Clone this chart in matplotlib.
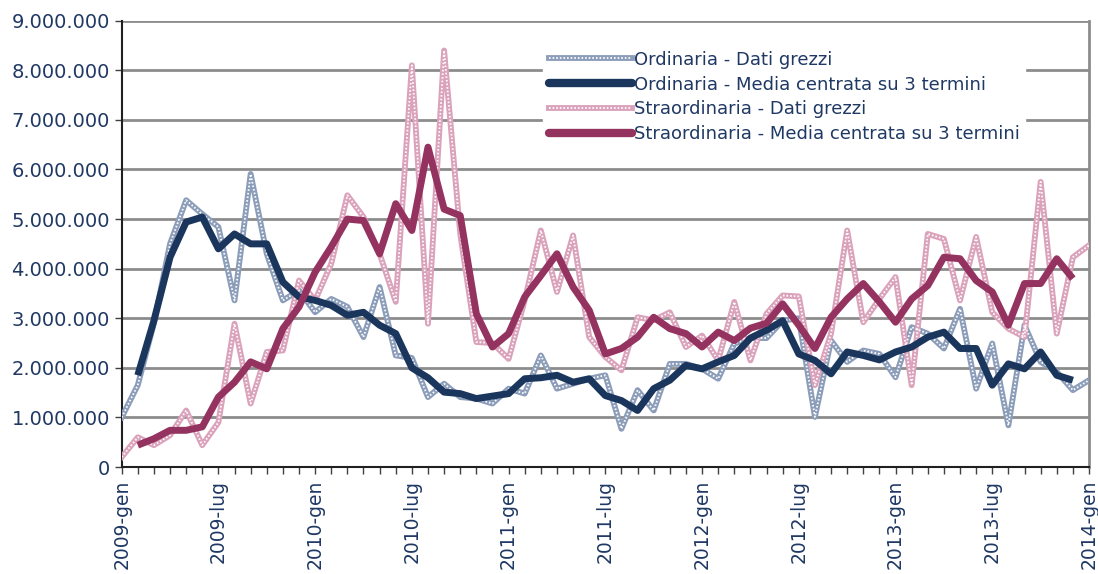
import numpy as np
import matplotlib
matplotlib.use("Agg")
import matplotlib.pyplot as plt
from matplotlib.lines import Line2D
from matplotlib.legend_handler import HandlerTuple

# monthly values, 2009-gen .. 2014-gen (millions of hours)
mesi = ["gen", "feb", "mar", "apr", "mag", "giu",
        "lug", "ago", "set", "ott", "nov", "dic"]
anni = [2009, 2010, 2011, 2012, 2013, 2014]
labels = [f"{a}-{m}" for a in anni for m in mesi][:61]

ord_raw = [1.0, 1.65, 2.9, 4.5, 5.38, 5.1, 4.84, 3.36, 5.91, 4.3,
           3.36, 3.56, 3.12, 3.39, 3.23, 2.62, 3.63, 2.25, 2.2, 1.41,
           1.68, 1.41, 1.38, 1.28, 1.58, 1.48, 2.25, 1.58, 1.68, 1.78,
           1.85, 0.77, 1.55, 1.14, 2.08, 2.08, 1.98, 1.78, 2.49, 2.6,
           2.6, 2.95, 3.0, 1.01, 2.55, 2.12, 2.35, 2.28, 1.81, 2.82,
           2.69, 2.39, 3.19, 1.58, 2.49, 0.84, 2.86, 2.12, 1.92, 1.55,
           1.75]
ord_ma = [np.nan, 1.85, 2.95, 4.23, 4.94, 5.04, 4.4, 4.7, 4.5, 4.5,
          3.73, 3.43, 3.36, 3.26, 3.06, 3.12, 2.86, 2.69, 2.0, 1.8,
          1.51, 1.48, 1.38, 1.43, 1.48, 1.78, 1.8, 1.85, 1.71, 1.78,
          1.44, 1.34, 1.14, 1.58, 1.75, 2.05, 1.98, 2.12, 2.25, 2.6,
          2.76, 2.95, 2.28, 2.15, 1.88, 2.32, 2.25, 2.16, 2.32, 2.42,
          2.62, 2.72, 2.39, 2.39, 1.65, 2.08, 1.98, 2.32, 1.85, 1.75,
          np.nan]
stra_raw = [0.2, 0.6, 0.44, 0.64, 1.14, 0.44, 0.9, 2.89, 1.28, 2.32,
            2.35, 3.76, 3.36, 4.1, 5.48, 5.04, 4.3, 3.33, 8.1, 2.89,
            8.4, 4.7, 2.52, 2.5, 2.18, 3.36, 4.77, 3.53, 4.67, 2.62,
            2.22, 1.95, 3.02, 2.96, 3.12, 2.42, 2.65, 2.15, 3.33, 2.15,
            3.09, 3.46, 3.44, 1.65, 2.69, 4.77, 2.92, 3.39, 3.83, 1.65,
            4.7, 4.6, 3.36, 4.64, 3.12, 2.79, 2.62, 5.75, 2.69, 4.23,
            4.47]
stra_ma = [np.nan, 0.44, 0.57, 0.74, 0.74, 0.81, 1.41, 1.71, 2.12, 1.98,
           2.79, 3.23, 3.93, 4.44, 5.0, 4.97, 4.3, 5.31, 4.77, 6.45,
           5.2, 5.07, 3.09, 2.42, 2.69, 3.43, 3.86, 4.3, 3.63, 3.16,
           2.28, 2.39, 2.62, 3.02, 2.79, 2.69, 2.42, 2.72, 2.55, 2.8,
           2.9, 3.29, 2.86, 2.39, 3.02, 3.39, 3.7, 3.33, 2.92, 3.39,
           3.66, 4.23, 4.2, 3.76, 3.53, 2.86, 3.7, 3.7, 4.2, 3.8,
           np.nan]

txt = "#1f3864"
navy = "#1b365d"
wine = "#943260"
ord_light = "#8c9dba"
stra_light = "#dba2bb"

plt.rcParams["font.family"] = ["DejaVu Sans"]
fig = plt.figure(figsize=(10.98, 5.74), dpi=100)
ax = fig.add_axes([0.1108, 0.1864, 0.881, 0.7775])

x = np.arange(len(labels))
M = 1e6
RAW_LW = 4.2
DOT_LW = 1.3
DOTS = (0, (0.9, 1.1))


def raw_line(y, col):
    # hatched look: coloured thick line with white dotted overlay
    ax.plot(x, np.array(y) * M, color=col, lw=RAW_LW, zorder=3)
    ax.plot(x, np.array(y) * M, color="white", lw=DOT_LW, ls=DOTS, zorder=3.1)


raw_line(ord_raw, ord_light)
ax.plot(x, np.array(ord_ma) * M, color=navy, lw=5, zorder=4, solid_capstyle="butt")
raw_line(stra_raw, stra_light)
ax.plot(x, np.array(stra_ma) * M, color=wine, lw=5, zorder=5, solid_capstyle="butt")

ax.set_xlim(0, 60)
ax.set_ylim(0, 9e6)
yt = np.arange(0, 9.5e6, 1e6)
ax.set_yticks(yt)
ax.set_yticklabels(["0"] + [f"{int(v):,}".replace(",", ".") for v in yt[1:]])
ax.set_xticks(x, minor=True)
ax.set_xticks(x[::6])
ax.set_xticklabels(labels[::6], rotation=90)
ax.tick_params(axis="both", which="both", direction="out", colors="#404040",
               labelcolor=txt, labelsize=13.5, length=5, width=1)
ax.tick_params(axis="y", labelsize=14)
ax.tick_params(axis="x", pad=4)
ax.yaxis.grid(True, color="#8c8c8c", lw=2)
ax.set_axisbelow(True)
ax.spines["top"].set_visible(False)
ax.spines["right"].set_color("#8c8c8c")
ax.spines["right"].set_linewidth(2)
for s in ["left", "bottom"]:
    ax.spines[s].set_color("#202020")
    ax.spines[s].set_linewidth(1.5)


def hraw(col):
    a = Line2D([], [], color=col, lw=RAW_LW)
    b = Line2D([], [], color="white", lw=DOT_LW, ls=DOTS)
    return (a, b)


handles = [hraw(ord_light),
           Line2D([], [], color=navy, lw=6, solid_capstyle="round"),
           hraw(stra_light),
           Line2D([], [], color=wine, lw=6, solid_capstyle="round")]
names = ["Ordinaria - Dati grezzi",
         "Ordinaria - Media centrata su 3 termini",
         "Straordinaria - Dati grezzi",
         "Straordinaria - Media centrata su 3 termini"]
leg = ax.legend(handles, names, handler_map={tuple: HandlerTuple(ndivide=1, pad=0)},
                loc="upper left", bbox_to_anchor=(0.436, 0.945), frameon=True,
                fontsize=13, labelcolor=txt, handlelength=4.6, handletextpad=0.1,
                labelspacing=0.38, borderpad=0.3, borderaxespad=0)
leg.get_frame().set_facecolor("white")
leg.get_frame().set_edgecolor("white")
leg.get_frame().set_alpha(1)
leg.set_zorder(6)

fig.savefig("out.png", dpi=100)
